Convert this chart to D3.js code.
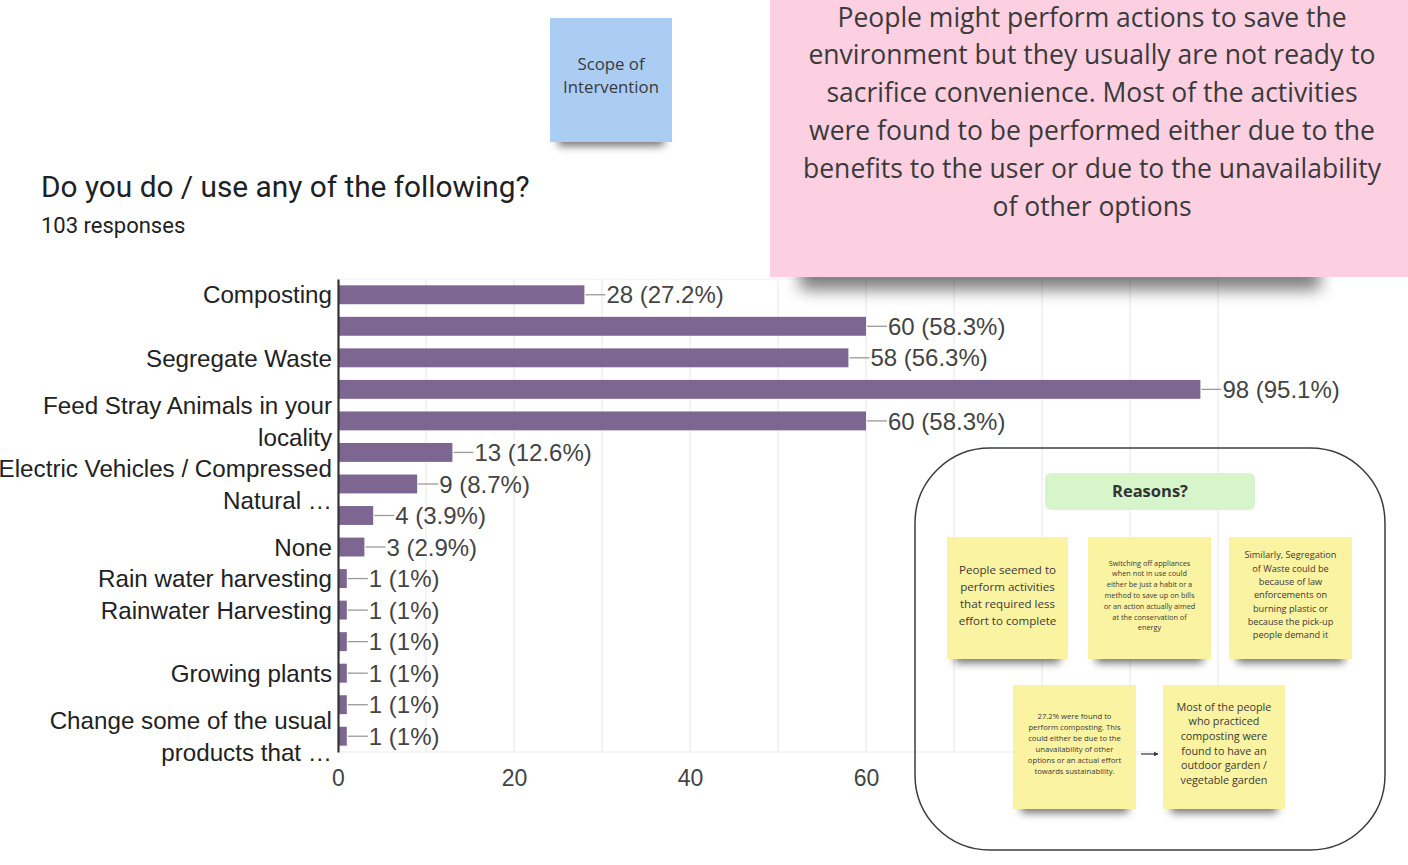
<!DOCTYPE html>
<html>
<head>
<meta charset="utf-8">
<script src="https://cdn.jsdelivr.net/npm/d3@7"></script>
<style>
  html, body { margin: 0; padding: 0; background: #ffffff; }
  svg { display: block; }
</style>
</head>
<body>
<svg id="chart" width="1408" height="865"></svg>
<script>
// ---------- DATA ----------
const title = "Do you do / use any of the following?";
const subtitle = "103 responses";
const categories = [
  "Composting", "(hidden 2)", "Segregate Waste", "(hidden 4)",
  "Feed Stray Animals in your locality", "(hidden 6)",
  "Electric Vehicles / Compressed Natural …", "(hidden 8)", "None",
  "Rain water harvesting", "Rainwater Harvesting", "(hidden 12)",
  "Growing plants", "(hidden 14)", "Change some of the usual products that …"
];
const values = [28, 60, 58, 98, 60, 13, 9, 4, 3, 1, 1, 1, 1, 1, 1];
const percents = ["27.2", "58.3", "56.3", "95.1", "58.3", "12.6", "8.7", "3.9", "2.9", "1", "1", "1", "1", "1", "1"];
const tickLabels = [
  ["Composting"], [], ["Segregate Waste"], [],
  ["Feed Stray Animals in your", "locality"], [],
  ["Electric Vehicles / Compressed", "Natural …"], [], ["None"],
  ["Rain water harvesting"], ["Rainwater Harvesting"], [],
  ["Growing plants"], [], ["Change some of the usual", "products that …"]
];
// tick labels visible in the picture (80 and 100 are covered by the notes)
const xTicks = [0, 20, 40, 60];
const xGrid = [10, 20, 30, 40, 50, 60, 70, 80, 90, 100];

const scopeNote = ["Scope of", "Intervention"];
const insightNote = [
  "People might perform actions to save the",
  "environment but they usually are not ready to",
  "sacrifice convenience. Most of the activities",
  "were found to be performed either due to the",
  "benefits to the user or due to the unavailability",
  "of other options"
];
const reasonsTitle = "Reasons?";
const note1 = ["People seemed to", "perform activities", "that required less", "effort to complete"];
const note2 = ["Switching off appliances", "when not in use could", "either be just a habit or a",
  "method to save up on bills", "or an action actually aimed", "at the conservation of", "energy"];
const note3 = ["Similarly, Segregation", "of Waste could be", "because of law", "enforcements on",
  "burning plastic or", "because the pick-up", "people demand it"];
const note4 = ["27.2% were found to", "perform composting. This", "could either be due to the",
  "unavailability of other", "options or an actual effort", "towards sustainability."];
const note5 = ["Most of the people", "who practiced", "composting were", "found to have an",
  "outdoor garden /", "vegetable garden"];

// ---------- SETUP ----------
const svg = d3.select("#chart");
const defs = svg.append("defs");
const f = defs.append("filter").attr("id", "blur").attr("x", "-50%").attr("y", "-200%").attr("width", "200%").attr("height", "500%");
f.append("feGaussianBlur").attr("stdDeviation", 4);
const fBig = defs.append("filter").attr("id", "blurBig").attr("x", "-50%").attr("y", "-200%").attr("width", "200%").attr("height", "500%");
fBig.append("feGaussianBlur").attr("stdDeviation", 8);

const chartFont = "'Liberation Sans', Arial, sans-serif";
const noteFont = "'Open Sans', 'Noto Sans', sans-serif";

const x = d3.scaleLinear().domain([0, 100]).range([338, 1218]);
const y = d3.scaleBand().domain(d3.range(categories.length)).range([279, 752])
  .paddingInner(0.4).paddingOuter(0.2);

// title
svg.append("text").attr("x", 41).attr("y", 197).text(title)
  .attr("font-family", "Roboto, sans-serif").attr("font-size", 29.8).attr("fill", "#202124");
svg.append("text").attr("x", 41).attr("y", 233).text(subtitle)
  .attr("font-family", "Roboto, sans-serif").attr("font-size", 22).attr("fill", "#202124");

// gridlines
const g = svg.append("g");
g.selectAll("line.grid").data(xGrid).join("line")
  .attr("x1", d => x(d)).attr("x2", d => x(d))
  .attr("y1", y.range()[0]).attr("y2", y.range()[1])
  .attr("stroke", "#ebebeb").attr("stroke-width", 1.2);
g.append("line").attr("x1", x(0)).attr("x2", x(100)).attr("y1", 279).attr("y2", 279)
  .attr("stroke", "#f0f0f0");
g.append("line").attr("x1", x(0)).attr("x2", x(100)).attr("y1", 752).attr("y2", 752)
  .attr("stroke", "#ebebeb").attr("stroke-width", 1.2);

// bars
g.selectAll("rect.bar").data(values).join("rect")
  .attr("x", x(0)).attr("y", (d, i) => y(i))
  .attr("width", d => x(d) - x(0)).attr("height", y.bandwidth())
  .attr("fill", "#7d6792");

// value annotations
const ann = g.selectAll("g.ann").data(values).join("g")
  .attr("transform", (d, i) => `translate(${x(d)},${y(i) + y.bandwidth() / 2})`);
ann.append("line").attr("x1", 1).attr("x2", 21).attr("y1", 0).attr("y2", 0)
  .attr("stroke", "#9a9a9a").attr("stroke-width", 1.3);
ann.append("text").attr("x", 22).attr("y", 0).attr("dy", "0.36em")
  .text((d, i) => `${d} (${percents[i]}%)`)
  .attr("font-family", chartFont).attr("font-size", 24).attr("fill", "#444");

// y axis
const yAxis = d3.axisLeft(y).tickSize(0).tickPadding(6).tickFormat(() => "");
const ya = svg.append("g").attr("transform", `translate(${x(0)},0)`).call(yAxis);
ya.select(".domain").attr("stroke", "#333").attr("stroke-width", 2.2);
ya.selectAll(".tick").each(function (i) {
  const lines = tickLabels[i];
  const t = d3.select(this).select("text").text(null)
    .attr("font-family", chartFont).attr("font-size", 24.2).attr("fill", "#222")
    .attr("x", -6).attr("dy", null).attr("text-anchor", "end");
  const n = lines.length;
  lines.forEach((ln, k) => {
    t.append("tspan").attr("x", -6).attr("y", (k - (n - 1) / 2) * 32).attr("dy", "0.36em").text(ln);
  });
});

// x axis
const xAxis = d3.axisBottom(x).tickValues(xTicks).tickSize(0).tickPadding(18);
const xa = svg.append("g").attr("transform", `translate(0,752)`).call(xAxis);
xa.select(".domain").remove();
xa.selectAll("text").attr("font-family", chartFont).attr("font-size", 23).attr("fill", "#444");

// ---------- STICKY NOTES ----------
function sticky(xx, yy, w, h, color, lines, fontSize, lineGap, firstY, opts = {}) {
  const s = svg.append("g");
  s.append("rect").attr("x", xx + 8).attr("y", yy + h - 10).attr("width", w - 16).attr("height", 14)
    .attr("fill", "#000").attr("opacity", opts.shadow || 0.55).attr("filter", "url(#blur)");
  s.append("rect").attr("x", xx).attr("y", yy).attr("width", w).attr("height", h).attr("fill", color);
  const cx = xx + w / 2;
  s.selectAll("text").data(lines).join("text")
    .attr("x", cx).attr("y", (d, i) => firstY + i * lineGap).attr("dy", "0.36em")
    .attr("text-anchor", "middle").attr("font-family", noteFont)
    .attr("font-size", fontSize).attr("fill", opts.color || "#3a3a3a")
    .attr("font-weight", opts.weight || 400).text(d => d);
  return s;
}

// blue
sticky(550, 18, 122, 124, "#abcdf3", scopeNote, 16.8, 23, 64);

// pink (big) with large shadow
svg.append("rect").attr("x", 800).attr("y", 262).attr("width", 520).attr("height", 28)
  .attr("fill", "#000").attr("opacity", 0.5).attr("filter", "url(#blurBig)");
svg.append("rect").attr("x", 770).attr("y", -10).attr("width", 650).attr("height", 287).attr("fill", "#fcd0e1");
svg.append("g").selectAll("text").data(insightNote).join("text")
  .attr("x", 1092).attr("y", (d, i) => 17 + i * 37.8).attr("dy", "0.36em")
  .attr("text-anchor", "middle").attr("font-family", noteFont).attr("font-size", 26.5)
  .attr("fill", "#3a3a3a").text(d => d);

// rounded frame
svg.append("rect").attr("x", 915).attr("y", 448).attr("width", 470).attr("height", 402)
  .attr("rx", 75).attr("ry", 75).attr("fill", "none").attr("stroke", "#3c3c3c").attr("stroke-width", 1.5);

// reasons header
svg.append("rect").attr("x", 1045).attr("y", 473).attr("width", 210).attr("height", 37)
  .attr("rx", 6).attr("fill", "#d7f5cb");
svg.append("text").attr("x", 1150).attr("y", 491).attr("dy", "0.36em").attr("text-anchor", "middle")
  .attr("font-family", noteFont).attr("font-weight", 700).attr("font-size", 16.5).attr("fill", "#333")
  .text(reasonsTitle);

const yellow = "#faf3a1";
sticky(947, 537, 121, 122, yellow, note1, 11.6, 16.8, 570);
sticky(1088, 537, 123, 122, yellow, note2, 7.3, 10.8, 563);
sticky(1229, 537, 123, 122, yellow, note3, 9.2, 13.3, 555);
sticky(1013, 685, 123, 124, yellow, note4, 7.7, 11, 716);
sticky(1163, 685, 122, 124, yellow, note5, 10.8, 14.6, 707);

// arrow between notes 4 and 5
defs.append("marker").attr("id", "arr").attr("viewBox", "0 0 10 10").attr("refX", 9).attr("refY", 5)
  .attr("markerWidth", 4).attr("markerHeight", 4).attr("orient", "auto")
  .append("path").attr("d", "M0,0 L10,5 L0,10 z").attr("fill", "#333");
svg.append("line").attr("x1", 1141).attr("x2", 1158).attr("y1", 754).attr("y2", 754)
  .attr("stroke", "#333").attr("stroke-width", 1.2).attr("marker-end", "url(#arr)");
</script>
</body>
</html>
